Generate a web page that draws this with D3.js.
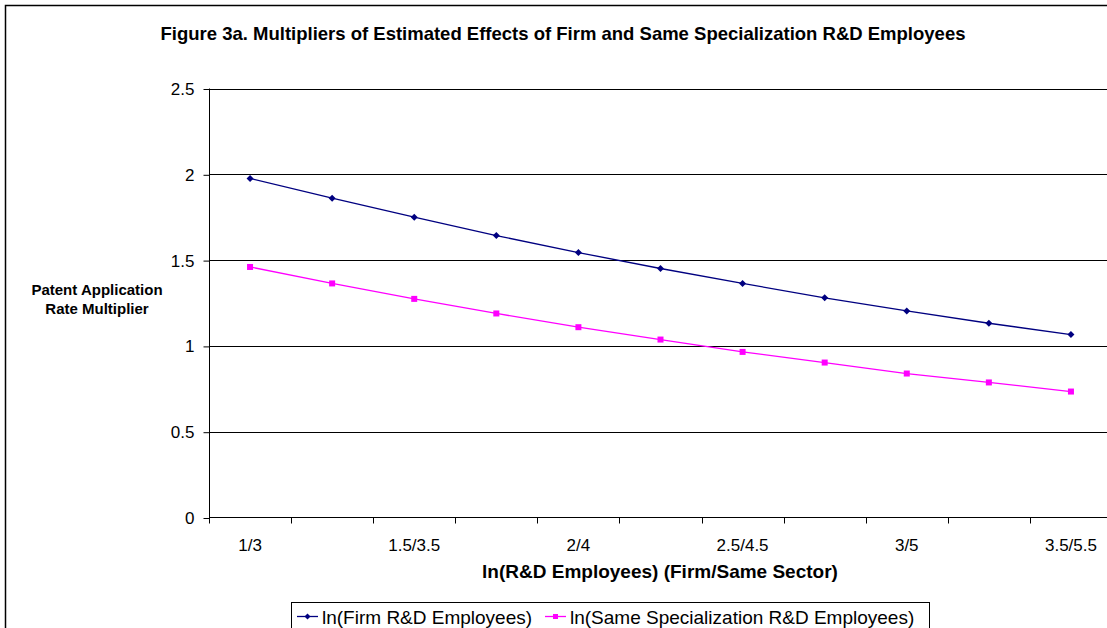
<!DOCTYPE html>
<html><head><meta charset="utf-8">
<script src="https://cdn.jsdelivr.net/npm/d3@7"></script>
<style>body{margin:0;background:#fff}svg{display:block;font-family:Arial,"Liberation Sans",sans-serif}</style>
</head><body><svg id="c" width="1107" height="628"></svg>
<script>
const categories = ["1/3","1.25/3.25","1.5/3.5","1.75/3.75","2/4","2.25/4.25","2.5/4.5","2.75/4.75","3/5","3.25/5.25","3.5/5.5"];
const shownLabels = ["1/3","1.5/3.5","2/4","2.5/4.5","3/5","3.5/5.5"];
const firmRD = [1.976,1.861,1.750,1.643,1.544,1.451,1.364,1.280,1.204,1.132,1.066];
const sameSpec = [1.460,1.364,1.274,1.189,1.109,1.037,0.965,0.903,0.839,0.787,0.734];
const yTicks = [0,0.5,1,1.5,2,2.5];
const seriesNames = ["ln(Firm R&D Employees)","ln(Same Specialization R&D Employees)"];

const svg = d3.select("#c");
svg.append("rect").attr("x",5.5).attr("y",5.5).attr("width",1120).attr("height",640)
  .attr("fill","#fff").attr("stroke","#000").attr("stroke-width",1.5);

const L=209, R=1112, T=88.5, B=517.5;
const x = d3.scaleBand().domain(categories).range([L,R]);
const y = d3.scaleLinear().domain([0,2.5]).range([B,T]);

// gridlines
svg.append("g").selectAll("line").data(yTicks.filter(d=>d>0)).join("line")
  .attr("x1",L).attr("x2",R).attr("y1",d=>Math.round(y(d))+0.5).attr("y2",d=>Math.round(y(d))+0.5)
  .attr("stroke","#000").attr("stroke-width",1);

// y axis
const ya = svg.append("g").attr("transform",`translate(${L+0.5},0.5)`)
  .call(d3.axisLeft(y).tickValues(yTicks).tickSize(6).tickPadding(9).tickFormat(d=>String(d)));
ya.selectAll("text").attr("font-size",17).attr("fill","#000").attr("font-family","Arial");
ya.selectAll("line,path").attr("stroke","#000");
ya.select("path").attr("d",`M0,${T-0.5}V${B-0.5}`);

// x axis
const xa = svg.append("g").attr("transform",`translate(0,${B})`);
xa.append("line").attr("x1",L).attr("x2",R).attr("y1",0).attr("y2",0).attr("stroke","#000");
const bounds = categories.map((c,i)=>x(c)).concat([R]);
xa.selectAll("line.t").data(bounds).join("line").attr("class","t")
  .attr("x1",d=>Math.round(d)+0.5).attr("x2",d=>Math.round(d)+0.5).attr("y1",0).attr("y2",6).attr("stroke","#000");
xa.selectAll("text").data(shownLabels).join("text")
  .attr("x",d=>x(d)+x.bandwidth()/2).attr("y",33).attr("text-anchor","middle")
  .attr("font-size",17).text(d=>d);

// titles
svg.append("text").attr("x",563).attr("y",40).attr("text-anchor","middle")
  .attr("font-size",18.5).attr("font-weight","bold").text("Figure 3a. Multipliers of Estimated Effects of Firm and Same Specialization R&D Employees");
svg.append("text").attr("x",660).attr("y",578).attr("text-anchor","middle")
  .attr("font-size",19).attr("font-weight","bold").text("ln(R&D Employees) (Firm/Same Sector)");
const yl = svg.append("text").attr("text-anchor","middle").attr("font-size",15).attr("font-weight","bold");
yl.append("tspan").attr("x",97).attr("y",295).text("Patent Application");
yl.append("tspan").attr("x",97).attr("y",314).text("Rate Multiplier");

// series
const line = d3.line().x((d,i)=>x(categories[i])+x.bandwidth()/2).y(d=>y(d));
const colors = ["#000080","#FF00FF"];
[firmRD,sameSpec].forEach((s,k)=>{
  svg.append("path").datum(s).attr("d",line).attr("fill","none").attr("stroke",colors[k]).attr("stroke-width",1.3);
});
svg.append("g").selectAll("path").data(firmRD).join("path")
  .attr("transform",(d,i)=>`translate(${x(categories[i])+x.bandwidth()/2},${y(d)})`)
  .attr("d","M0,-3.5L3.5,0L0,3.5L-3.5,0Z").attr("fill","#000080");
svg.append("g").selectAll("rect").data(sameSpec).join("rect")
  .attr("x",(d,i)=>x(categories[i])+x.bandwidth()/2-3).attr("y",d=>y(d)-3)
  .attr("width",6).attr("height",6).attr("fill","#FF00FF");

// legend
const lg = svg.append("g");
lg.append("rect").attr("x",291.5).attr("y",602.5).attr("width",638).attr("height",40)
  .attr("fill","#fff").attr("stroke","#000");
const items = [{x:297,c:"#000080",m:"d"},{x:545,c:"#FF00FF",m:"s"}];
items.forEach((it,k)=>{
  lg.append("line").attr("x1",it.x).attr("x2",it.x+21).attr("y1",616.5).attr("y2",616.5).attr("stroke",it.c).attr("stroke-width",1.3);
  if(it.m==="d") lg.append("path").attr("transform",`translate(${it.x+10.5},616.5)`).attr("d","M0,-3L3,0L0,3L-3,0Z").attr("fill",it.c);
  else lg.append("rect").attr("x",it.x+8).attr("y",614).attr("width",5).attr("height",5).attr("fill",it.c);
  lg.append("text").attr("x",it.x+25).attr("y",624).attr("font-size",19).text(seriesNames[k]);
});
</script></body></html>
